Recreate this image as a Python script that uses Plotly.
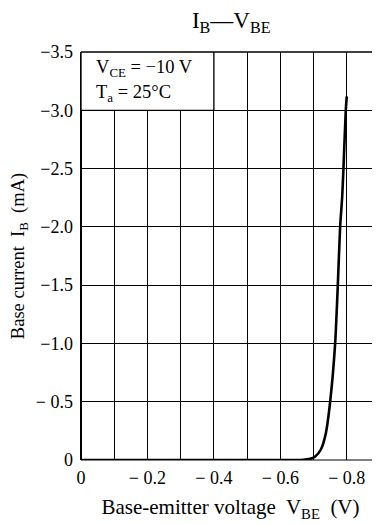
import plotly.graph_objects as go

# Curve data (V_BE in V, I_B in mA)
vbe = [0.0, -0.2, -0.4, -0.6, -0.66, -0.69, -0.705, -0.722, -0.737, -0.750, -0.765, -0.773, -0.780, -0.786, -0.790, -0.797, -0.800]
ib = [0.0, 0.0, 0.0, 0.0, 0.0, -0.01, -0.03, -0.09, -0.23, -0.5, -1.0, -1.5, -2.0, -2.25, -2.5, -3.0, -3.12]

x_ticks = [0, -0.1, -0.2, -0.3, -0.4, -0.5, -0.6, -0.7, -0.8, -0.9]
x_ticktext = ["0", "", "− 0.2", "", "− 0.4", "", "− 0.6", "", "− 0.8", ""]
y_ticks = [0, -0.5, -1.0, -1.5, -2.0, -2.5, -3.0, -3.5]
y_ticktext = ["0", "− 0.5", "−1.0", "−1.5", "−2.0", "−2.5", "−3.0", "−3.5"]

FONT = "Liberation Serif"
# page body has an 8px margin; figure is sized/margined to compensate
W, H = 372, 516

fig = go.Figure()
fig.add_trace(go.Scatter(x=vbe, y=ib, mode="lines", line=dict(color="black", width=2.6, shape="spline", smoothing=0.6),
                         hoverinfo="skip", showlegend=False))

fig.update_layout(
    width=W, height=H,
    margin=dict(l=73, r=0, t=44, b=64, autoexpand=False),
    paper_bgcolor="white", plot_bgcolor="white",
    font=dict(family=FONT, size=18, color="black"),
    showlegend=False,
    title=dict(text="I<sub>B</sub>—V<sub>BE</sub>", x=0.6, xanchor="center", y=0.977, yanchor="middle",
               font=dict(family=FONT, size=23, color="black")),
)
fig.update_xaxes(range=[0, -0.9], tickvals=x_ticks, ticktext=x_ticktext, automargin=False,
                 showgrid=True, gridcolor="black", gridwidth=1,
                 showline=False, zeroline=False, ticks="", ticklabelstandoff=5,
                 tickfont=dict(family=FONT, size=18),
                 title=dict(text="Base-emitter voltage  V<sub>BE</sub>  (V)", standoff=12,
                            font=dict(family=FONT, size=21)))
fig.update_yaxes(range=[0, -3.5], tickvals=y_ticks, ticktext=y_ticktext, automargin=False,
                 showgrid=True, gridcolor="black", gridwidth=1.3,
                 showline=False, zeroline=False, ticks="", ticklabelstandoff=7,
                 tickfont=dict(family=FONT, size=18),
                 title=dict(text="Base current  I<sub>B</sub>  (mA)", standoff=8,
                            font=dict(family=FONT, size=18.5)))

# left axis line and top/bottom border
fig.add_shape(type="line", xref="paper", yref="paper", x0=0, x1=0, y0=0, y1=1, line=dict(color="black", width=2))
fig.add_shape(type="line", xref="paper", yref="paper", x0=0, x1=1, y0=1, y1=1, line=dict(color="black", width=1.5))
fig.add_shape(type="line", xref="paper", yref="paper", x0=0, x1=1, y0=0, y1=0, line=dict(color="black", width=1))

# condition box
fig.add_shape(type="rect", xref="x", yref="y", x0=0, x1=-0.4, y0=-3.0, y1=-3.5,
              fillcolor="white", line=dict(color="black", width=1.3), layer="above")
fig.add_annotation(x=-0.04, y=-3.36, xref="x", yref="y", text="V<sub>CE</sub> = −10 V", showarrow=False,
                   xanchor="left", yanchor="middle", font=dict(family=FONT, size=18.5))
fig.add_annotation(x=-0.04, y=-3.14, xref="x", yref="y", text="T<sub>a</sub> = 25°C", showarrow=False,
                   xanchor="left", yanchor="middle", font=dict(family=FONT, size=18.5))

fig.write_html("out.html")
